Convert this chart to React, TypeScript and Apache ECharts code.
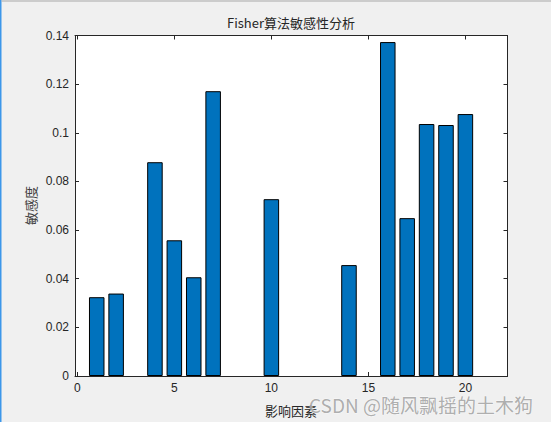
import React, { useEffect, useRef } from "react";
import * as echarts from "echarts";

const factors = [1, 2, 3, 4, 5, 6, 7, 8, 9, 10, 11, 12, 13, 14, 15, 16, 17, 18, 19, 20];
const sensitivity = [
  0.0324, 0.0339, 0, 0.0879, 0.0558, 0.0406, 0.1171, 0, 0, 0.0727,
  0, 0, 0, 0.0456, 0, 0.1373, 0.0649, 0.1036, 0.1032, 0.1077,
];
const xTicks = [0, 5, 10, 15, 20];
const titleText = "Fisher算法敏感性分析";
const xName = "影响因素";
const yName = "敏感度";
const watermark = "CSDN @随风飘摇的土木狗";

export default function App() {
  const ref = useRef<HTMLDivElement>(null);
  useEffect(() => {
    document.body.style.margin = "0";
    if (!ref.current) return;
    const chart = echarts.init(ref.current, undefined, { renderer: "svg" });
    const W = 551, H = 422;
    const gl = 75, gr = 43.5, gt = 35.5, gb = 46;
    const xmin = -0.12, xmax = 22.17;
    const pxPerUnit = (W - gl - gr) / (xmax - xmin);
    const barW = 0.8 * pxPerUnit;
    const axisColor = "#262626";
    const font = "'Liberation Sans', Arial, sans-serif";
    const cjk = "'Noto Sans CJK SC', sans-serif";
    const baseX = {
      type: "value" as const,
      min: xmin,
      max: xmax,
      splitLine: { show: false },
      axisLine: { show: true, onZero: false, lineStyle: { color: axisColor, width: 1 } },
    };
    const baseY = {
      type: "value" as const,
      min: 0,
      max: 0.14,
      interval: 0.02,
      splitLine: { show: false },
      axisLine: { show: true, onZero: false, lineStyle: { color: axisColor, width: 1 } },
    };
    chart.setOption({
      animation: false,
      backgroundColor: "#f0f0f0",
      grid: {
        left: gl, right: gr, top: gt, bottom: gb,
        show: true, backgroundColor: "#ffffff", borderWidth: 0,
      },
      xAxis: [
        {
          ...baseX,
          position: "bottom",
          axisTick: { show: true, inside: true, length: 4, customValues: xTicks, lineStyle: { color: axisColor } },
          axisLabel: {
            show: true, customValues: xTicks, color: axisColor, fontSize: 12,
            fontFamily: font, margin: 6,
          },
        },
        {
          ...baseX,
          position: "top",
          axisTick: { show: true, inside: true, length: 4, customValues: xTicks, lineStyle: { color: axisColor } },
          axisLabel: { show: false },
        },
      ],
      yAxis: [
        {
          ...baseY,
          position: "left",
          axisTick: { show: true, inside: true, length: 4, lineStyle: { color: axisColor } },
          axisLabel: { show: true, color: axisColor, fontSize: 12, fontFamily: font, margin: 6 },
        },
        {
          ...baseY,
          position: "right",
          axisTick: { show: true, inside: true, length: 4, lineStyle: { color: axisColor } },
          axisLabel: { show: false },
        },
      ],
      series: [
        {
          type: "bar",
          xAxisIndex: 0,
          yAxisIndex: 0,
          barWidth: barW,
          data: factors.map((f, i) => ({
            value: [f, sensitivity[i]],
            itemStyle: sensitivity[i] === 0 ? { borderWidth: 0, opacity: 0 } : undefined,
          })),
          itemStyle: { color: "#0072BD", borderColor: "#000000", borderWidth: 1 },
        },
      ],
      graphic: [
        { type: "rect", left: 0, top: 0, shape: { width: 1.5, height: H }, style: { fill: "#3d97ea" }, z: 100 },
        { type: "rect", left: 1.5, top: 0.5, shape: { width: W, height: 1 }, style: { fill: "#a8a8a8" }, z: 100 },
        {
          type: "text", x: 291, y: 22,
          style: { text: titleText, fill: axisColor, font: `13px ${cjk}`, align: "center", verticalAlign: "middle" },
        },
        {
          type: "text", x: 291, y: 410,
          style: { text: xName, fill: axisColor, font: `13px ${cjk}`, align: "center", verticalAlign: "middle" },
        },
        {
          type: "text", x: 30, y: 205.5, rotation: Math.PI / 2,
          style: { text: yName, fill: "#404040", font: `13px ${cjk}`, align: "center", verticalAlign: "middle" },
        },
        {
          type: "text", x: 421, y: 404, z: 200,
          style: {
            text: watermark, fill: "rgba(165,165,165,0.9)", font: `19px ${cjk}`,
            stroke: "rgba(255,255,255,0.6)", lineWidth: 1,
            align: "center", verticalAlign: "middle",
          },
        },
      ],
    });
    return () => chart.dispose();
  }, []);
  return <div ref={ref} style={{ width: 551, height: 422 }} />;
}
